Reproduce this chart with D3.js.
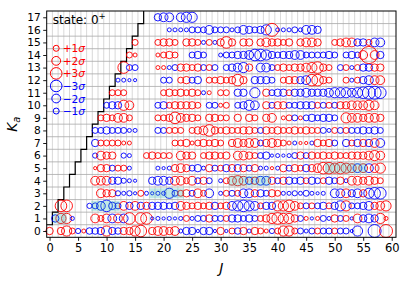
<!DOCTYPE html>
<html>
<head>
<meta charset="utf-8">
<script src="https://cdn.jsdelivr.net/npm/d3@7"></script>
<style>
body { margin: 0; background: #fff; }
text { font-family: "DejaVu Sans", sans-serif; }
</style>
</head>
<body>
<svg id="chart"></svg>
<script>
const svgWidth = 408, svgHeight = 281;
const margin = {top: 11, right: 12, bottom: 43.7, left: 46.7},
    width = svgWidth - margin.left - margin.right,
    height = svgHeight - margin.top - margin.bottom;

// residuals in units of sigma, one array per Ka, first entry is J = Ka
const ka0 = [1.5, null, 1.5, 2.5, 1.0, -0.8, 0.5, -1.2, -1.2, -1.5,
    2.5, -1.5, -1.2, 1.5, 1.5, 2.5, 3.0, null, 1.5, 2.0,
    2.0, 1.5, 2.0, -0.5, -1.5, -1.5, -0.3, -1.5, -1.5, -0.3,
    1.5, -0.3, 1.0, -1.2, 1.5, -0.5, 1.5, 1.0, 0.5, -0.8,
    1.0, 2.5, 2.5, 1.0, -1.0, -0.5, -1.0, 1.0, -1.0, -1.0,
    1.0, -1.0, -1.0, -0.3, -2.5, null, null, -3.5, null, 3.5];
const ka1 = [-1.5, 2.5, 2.5, -0.5, null, null, null, 2.0, 1.0,
    2.0, -2.0, 2.0, -2.0, 3.0, null, 3.0, 3.0, -0.3, -0.5,
    -0.3, -0.5, -0.3, -0.5, 1.0, -0.5, -1.0, -1.0, 1.5, -1.0,
    -1.0, 1.0, -1.5, -1.5, -1.0, -1.5, -1.0, 1.0, 1.5, 2.5,
    3.0, 2.5, 2.5, 1.5, -1.0, 0.5, -0.3, 0.5, -1.0, -0.5,
    1.5, -1.0, 1.0, -0.3, 2.0, -1.5, -2.0, -1.5, 2.5, 0.5];
const ka2 = [3.0, 3.0, null, null, null, -0.8, -1.0, -2.0,
    -3.0, -1.5, -1.0, 2.0, -1.5, 2.0, -1.5, 1.5, -1.5, -1.5,
    -1.5, -1.0, -1.5, 2.0, 1.5, 1.0, 1.5, 1.0, 1.5, -1.5,
    1.0, 1.5, -2.0, -2.5, -3.0, -2.5, -2.0, 1.0, -1.5, -1.5,
    2.5, 2.5, 3.0, 2.0, 1.0, -1.0, 1.0, -1.0, -1.5, 1.0,
    -1.5, -2.5, 2.5, -1.0, -1.0, -1.5, -2.0, 1.5, 2.0, 2.5];
const ka3 = [null, null, null, null, null, null, 2.0,
    1.5, 1.5, -0.8, -0.5, -0.8, -0.3, 1.0, -0.5, -0.3, -0.5,
    -0.5, -2.5, -1.0, 1.0, 1.5, -1.0, 2.0, 1.0, -2.0, null,
    -0.5, 1.0, -1.0, 1.0, -2.0, -2.0, 1.5, -1.5, -1.0, 1.5,
    1.0, -0.5, -0.5, -0.8, -0.5, -1.0, -0.5, -0.3, -0.5, null,
    -2.0, -2.0, 2.0, -1.5, -2.0, 1.5, -2.5, -3.0, -3.0];
const ka4 = [null, null, null, null, 2.0, 2.0,
    2.0, -1.5, -1.5, -0.8, -0.5, -0.3, null, null, -1.5, -2.0,
    -2.0, -1.5, 2.0, 2.0, 1.0, 2.0, -1.0, 1.5, -1.0, null,
    -0.5, 1.0, 2.0, 2.5, 2.0, -1.5, 1.5, -2.0, -2.0, 1.5,
    -1.0, 1.5, -1.5, -1.0, -1.5, 1.0, -1.5, -1.0, 1.0, -1.5,
    -1.0, 1.5, -0.5, 2.0, 2.0, 1.5, 2.0, 1.5, 1.0];
const ka5 = [null, null, null, 0.3, 1.5,
    1.5, -1.0, 1.0, 1.0, -0.5, null, null, null, null, -0.5,
    -0.3, -0.5, 1.5, 2.0, 1.5, -1.0, -1.5, -0.5, 1.5, -1.0,
    1.0, -1.5, 1.5, -1.5, 1.5, -1.0, 1.5, -0.5, -0.5, 0.3,
    -0.5, 1.5, -1.0, 1.5, 1.0, -1.5, 1.5, 2.0, 3.0, 3.0,
    2.5, 3.0, 2.5, 2.0, -2.0, 2.0, -2.0, 2.0, 2.5];
const ka6 = [null, null, -0.8, 2.0,
    1.5, 1.5, null, -0.8, -0.5, null, null, 1.0, 1.5, 1.0,
    1.0, 1.0, null, 2.0, 1.5, 1.5, null, 1.0, 1.5, 1.5,
    1.0, 1.5, null, 2.0, 2.0, 1.5, 1.0, -1.0, -1.5, -0.3,
    -0.5, -0.3, -0.5, -1.0, 1.5, -1.0, 1.5, 1.0, 1.5, 1.0,
    1.5, 1.0, 1.0, 1.5, 1.5, 1.5, 2.0, 2.5, 2.0];
const ka7 = [null, -1.5, 1.0,
    1.0, 1.0, 1.0, 0.5, 0.5, null, null, null, null, null,
    null, null, 1.0, 1.0, 1.5, 0.5, 1.0, 1.5, 1.0, 1.5,
    1.0, null, 1.5, 2.0, 1.5, 2.0, 2.0, -1.0, 1.5, 2.0,
    1.5, 1.0, 0.5, -0.5, 0.3, 0.3, -0.5, 1.5, 1.0, 1.5,
    -1.0, null, -1.5, 1.0, -1.5, 1.5, -1.5, 2.0, -2.0];
const ka8 = [-1.0, -1.0,
    -1.5, -1.0, -1.0, -1.0, -0.5, -0.5, null, null, null, -1.0,
    -1.0, 1.0, 1.0, 1.0, null, 1.0, 1.5, 2.0, 3.0, 1.5,
    1.0, 1.5, 1.0, 1.0, 1.5, 1.5, 1.0, -1.0, 1.5, 1.0,
    1.5, 1.0, 1.0, 1.5, 1.0, 1.5, 1.0, 1.0, -1.0, -0.5,
    1.0, -1.0, 1.0, -1.0, -1.0, -1.5, -1.0, -1.5, -1.0];
const ka9 = [1.0,
    1.5, 1.0, 2.0, 2.0, 1.0, null, null, null, null, 1.0,
    1.0, 1.5, 3.0, 2.0, 1.5, 1.5, 1.0, null, 1.5, 1.5,
    1.0, 1.0, null, 1.5, null, 1.5, 1.0, null, 1.5, 2.0,
    null, 0.5, 1.0, -1.0, 0.5, -1.0, -1.5, -1.0, -1.5, -1.5,
    -1.0, null, 2.5, 2.0, 2.0, 1.5, 2.0, 2.0, 1.5];
const ka10 = [-1.0, -1.5, -1.5, 2.5, 2.0, null, null, null, null, -1.0,
    -1.5, 1.0, 1.5, 1.5, 1.5, 1.5, 1.0, null, -1.0, -1.0,
    0.5, 1.0, null, -1.0, -1.5, -2.5, -2.0, null, 1.5, -1.0,
    1.5, 1.5, -1.0, -1.0, -1.5, -1.5, -1.5, 1.0, -1.0, 1.0,
    -1.0, 1.5, 1.5, 2.0, 2.0, 2.0, 2.5, 2.0];
const ka11 = [1.0, 1.0, 1.0, null, null, null, null, null, null,
    1.0, 1.5, 1.0, 1.5, 1.0, 1.5, 1.0, -0.5, 0.5, null,
    1.0, 1.0, null, -1.5, -1.5, null, -2.5, null, 1.5, -1.0,
    -1.5, -1.5, 1.0, -1.5, -1.5, -2.0, -1.5, -1.5, -1.5, -2.0,
    -2.5, -2.5, -2.5, -2.0, -2.5, -3.0, -3.5, -3.5, -3.0];
const ka12 = [-0.5, -0.5, -0.3, -0.3, null, null, null, null,
    -1.0, -1.0, null, 1.0, 1.5, -1.0, -1.5, null, 1.0, 1.0,
    1.5, 1.0, 1.5, 3.0, 1.5, null, -1.5, -1.5, -1.5, -1.0,
    null, 1.0, 1.5, 1.5, -1.5, -2.0, 3.0, 3.0, 1.5, 1.0,
    null, null, 1.0, -0.5, 1.0, -1.5, -2.0, 2.0, 2.0];
const ka13 = [3.0, -1.0, -1.0, null, null, null, 0.5,
    0.5, -0.5, -1.0, 1.5, 1.5, 1.0, 1.5, -1.0, 1.0, -1.0,
    null, -1.0, -1.5, -2.0, -2.5, 1.5, null, -2.0, -2.0, -1.0,
    1.0, 1.5, 1.0, 1.5, 1.5, 2.0, 2.5, 3.0, 1.5, 1.0,
    null, -1.0, 1.0, -0.5, 1.0, -1.5, -1.5, 1.5, 1.5];
const ka14 = [1.0, 0.5, null, null, null, 0.5,
    1.0, 1.5, 1.0, null, null, -1.0, -1.5, -1.0, null, null,
    -0.5, -1.0, -1.0, -1.5, -1.5, -2.0, -3.0, -3.0, -2.5, -1.5,
    -1.0, -1.5, -1.5, -2.0, -2.0, -1.0, -1.0, -1.0, -1.0, -1.5,
    -1.0, null, -1.0, -1.5, -1.0, 2.0, 5.0, 2.0, -1.5];
const ka15 = [1.0, null, null, null, 1.0,
    1.5, 1.5, 1.0, null, 1.5, 1.5, 1.0, -0.5, 1.0, -0.5,
    1.5, 3.0, 1.5, null, 1.5, 1.5, null, 1.5, 2.0, 1.5,
    1.5, 1.0, 1.5, null, 1.5, 2.0, 2.0, 1.5, null, null,
    1.0, 1.5, 2.0, 2.0, -1.5, -1.5, 1.0, -2.0, -2.0];
const ka16 = [null, null, null, null, null,
    -0.5, -0.5, -0.5, -0.5, -1.0, -1.0, -1.0, -2.0, -1.0,
    -1.0, -1.0, -0.5, -1.0, -2.0, -1.5, -1.0, -1.5, -2.5, 3.5,
    -0.5, -0.5, -0.5, -1.0, -0.5, -2.0, -2.0, -1.5];
const ka17 = [null, null, -1.5, -2.0, -2.0, null, -2.0, -2.5, -2.5];

const rowsByKa = [ka0, ka1, ka2, ka3, ka4, ka5, ka6, ka7, ka8, ka9,
    ka10, ka11, ka12, ka13, ka14, ka15, ka16, ka17];

// perturbed regions (cyan bands)
const shadeKa = [1, 2, 3, 4, 5];
const shadeJFrom = [0.6, 7.3, 17.5, 31.4, 48.3];
const shadeJTo = [3.0, 12.3, 23.5, 38.7, 55.6];

const legendLabels = ["+1\u03c3", "+2\u03c3", "+3\u03c3", "\u22123\u03c3", "\u22122\u03c3", "\u22121\u03c3"];
const legendValues = [1, 2, 3, -3, -2, -1];

const xTicks = d3.range(0, 61, 5);
const yTicks = d3.range(0, 18, 1);

var points = [];
rowsByKa.forEach(function(row, ka) {
    row.forEach(function(v, i) {
        if (v !== null) points.push({J: ka + i, Ka: ka, value: v});
    });
});

const chart = d3.select('#chart')
    .attr("width", svgWidth)
    .attr("height", svgHeight);

const innerChart = chart.append("g")
    .attr("transform", "translate(" + margin.left + "," + margin.top + ")");

var xScale = d3.scaleLinear().domain([-0.5, 60.75]).range([0, width]);
var yScale = d3.scaleLinear().domain([-0.5, 17.5]).range([height, 0]);
var rScale = d3.scaleLinear().domain([0, 1, 3]).range([1, 3, 5.8]);

function colorOf(v) { return v >= 0 ? "#ff0000" : "#0000ff"; }

// grid at half integers
innerChart.append("g").selectAll("line")
    .data(d3.range(0.5, 60.5, 1))
    .enter().append("line")
    .attr("x1", d => xScale(d)).attr("x2", d => xScale(d))
    .attr("y1", 0).attr("y2", height)
    .attr("stroke", "#cfcfcf").attr("stroke-width", 0.8);

innerChart.append("g").selectAll("line")
    .data(d3.range(0.5, 17.5, 1))
    .enter().append("line")
    .attr("x1", 0).attr("x2", width)
    .attr("y1", d => yScale(d)).attr("y2", d => yScale(d))
    .attr("stroke", "#a8a8a8").attr("stroke-width", 0.8);

// staircase J = Ka boundary
var stairLine = d3.line()
    .x(d => xScale(d[0]))
    .y(d => yScale(d[1]))
    .curve(d3.curveStepAfter);

innerChart.append("path")
    .datum(yTicks.map(k => [k - 0.5, k + 0.5]))
    .attr("d", stairLine)
    .attr("fill", "none")
    .attr("stroke", "#000")
    .attr("stroke-width", 1.2);

innerChart.append("g").selectAll("circle")
    .data(points)
    .enter().append("circle")
    .attr("cx", d => xScale(d.J))
    .attr("cy", d => yScale(d.Ka))
    .attr("r", d => rScale(Math.abs(d.value)))
    .attr("fill", "none")
    .attr("stroke", d => colorOf(d.value))
    .attr("stroke-width", 0.9);

innerChart.append("g").selectAll("rect")
    .data(shadeKa)
    .enter().append("rect")
    .attr("x", (d, i) => xScale(shadeJFrom[i]))
    .attr("width", (d, i) => xScale(shadeJTo[i]) - xScale(shadeJFrom[i]))
    .attr("y", d => yScale(d + 0.4))
    .attr("height", d => yScale(d - 0.4) - yScale(d + 0.4))
    .attr("fill", "#20b2aa")
    .attr("opacity", 0.28);

// axes
var xAxis = d3.axisBottom(xScale).tickValues(xTicks).tickSizeOuter(0).tickSize(3.5).tickPadding(3);
var yAxis = d3.axisLeft(yScale).tickValues(yTicks).tickSizeOuter(0).tickSize(3.5).tickPadding(2.5);

innerChart.append("g")
    .attr("transform", "translate(0," + height + ")")
    .call(xAxis)
    .call(g => g.select(".domain").remove())
    .selectAll("text").attr("font-size", 11.5).attr("fill", "#000")
    .attr("font-family", "DejaVu Sans");

innerChart.append("g")
    .call(yAxis)
    .call(g => g.select(".domain").remove())
    .selectAll("text").attr("font-size", 10.6).attr("fill", "#000")
    .attr("font-family", "DejaVu Sans");

innerChart.selectAll(".tick line").attr("stroke", "#000").attr("stroke-width", 0.9);

innerChart.append("rect")
    .attr("width", width).attr("height", height)
    .attr("fill", "none").attr("stroke", "#000").attr("stroke-width", 1);

// axis labels
chart.append("text")
    .attr("x", margin.left + width / 2)
    .attr("y", 273)
    .attr("text-anchor", "middle")
    .attr("font-size", 14)
    .attr("font-style", "italic")
    .text("J");

var yLab = chart.append("text")
    .attr("transform", "translate(17," + (margin.top + height / 2) + ") rotate(-90)")
    .attr("text-anchor", "middle")
    .attr("font-size", 14)
    .attr("font-style", "italic");
yLab.append("tspan").text("K");
yLab.append("tspan").attr("font-size", 10).attr("dy", 3).text("a");

// legend
var stateText = innerChart.append("text")
    .attr("x", 6).attr("y", 12.5)
    .attr("font-size", 12);
stateText.append("tspan").text("state: 0");
stateText.append("tspan").attr("font-size", 8.5).attr("dy", -5).text("+");

var legend = innerChart.append("g").selectAll("g")
    .data(legendValues)
    .enter().append("g")
    .attr("transform", (d, i) => "translate(9.5," + (37.3 + i * 12.55) + ")");

legend.append("circle")
    .attr("r", d => rScale(Math.abs(d)))
    .attr("fill", "none")
    .attr("stroke", d => colorOf(d))
    .attr("stroke-width", 1);

var legText = legend.append("text")
    .attr("x", 6.5).attr("y", 4)
    .attr("font-size", 10.6)
    .attr("fill", d => colorOf(d));
legText.append("tspan").text((d, i) => legendLabels[i].slice(0, 2));
legText.append("tspan").attr("font-style", "italic").text((d, i) => legendLabels[i].slice(2));
</script>
</body>
</html>
